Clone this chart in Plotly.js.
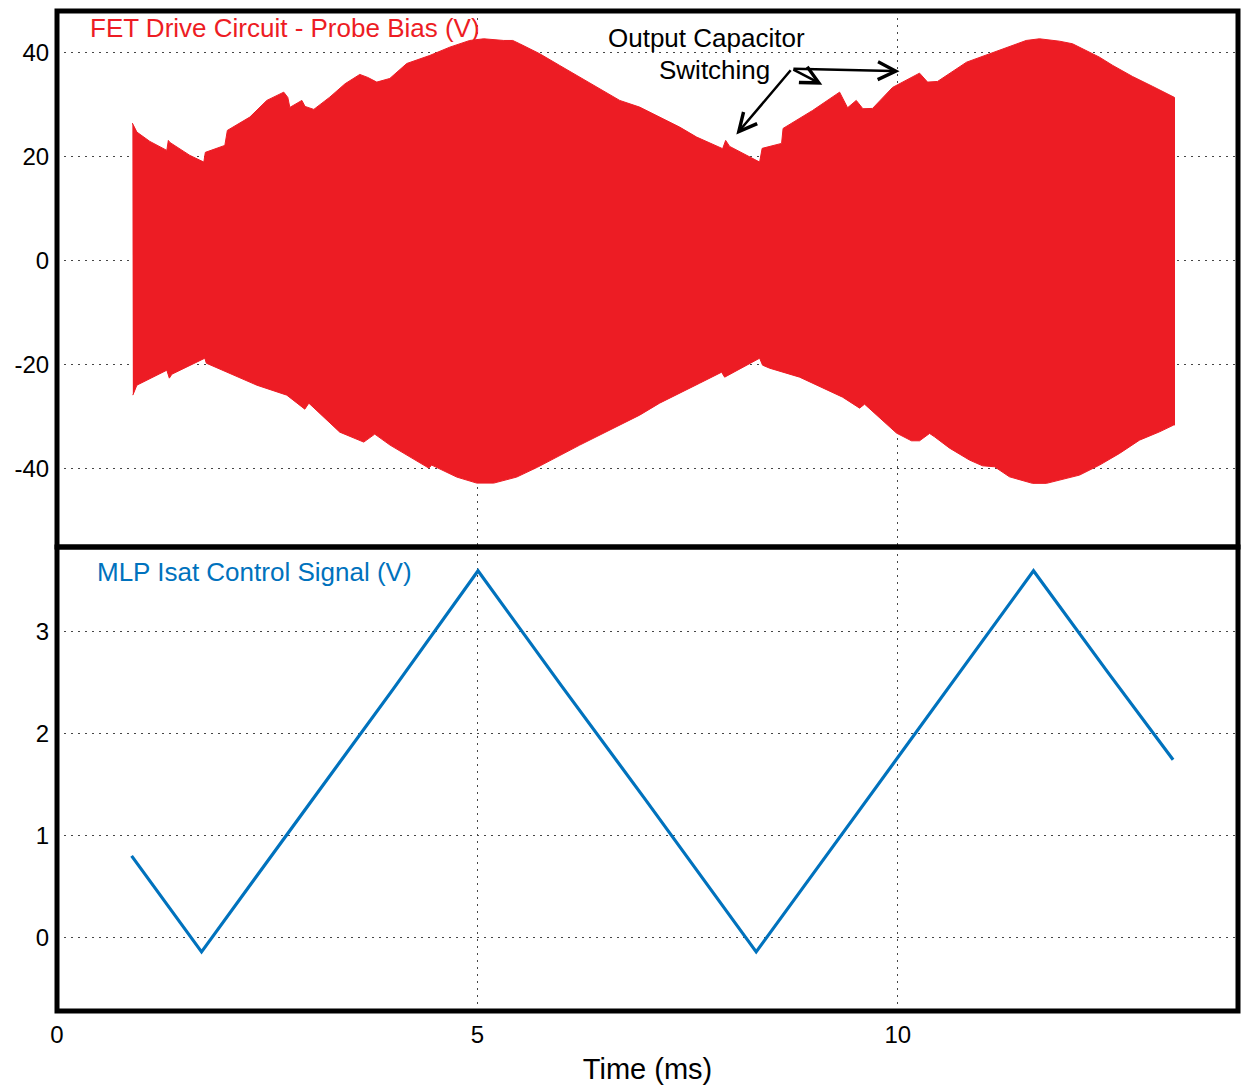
<!DOCTYPE html>
<html>
<head>
<meta charset="utf-8">
<script src="https://cdn.plot.ly/plotly-3.0.1.min.js"></script>
<style>html,body{margin:0;padding:0;background:#fff;}#chart{width:1241px;height:1085px;}</style>
</head>
<body>
<div id="chart"></div>
<script>
// ---- Data ----
// Probe bias envelope: upper edge (time in ms, volts)
const timeUpper = [0.896,0.950,1.104,1.306,1.324,1.342,1.580,1.746,1.764,1.996,2.026,2.293,2.495,2.697,2.745,2.769,2.912,2.950,3.054,3.244,3.426,3.601,3.696,3.803,3.958,4.160,4.433,4.671,4.909,5.075,5.313,5.420,5.503,5.621,5.741,5.978,6.216,6.454,6.692,6.929,7.167,7.405,7.607,7.916,7.952,7.999,8.356,8.386,8.617,8.635,8.986,9.283,9.307,9.402,9.505,9.584,9.699,9.937,10.258,10.353,10.472,10.817,11.209,11.447,11.526,11.684,11.922,12.077,12.240,12.398,12.556,12.790,13.031,13.266,13.290];
const biasUpper = [26.46,24.73,22.94,21.21,23.13,22.75,20.25,18.96,20.83,22.17,25.06,27.62,30.83,32.42,31.40,29.48,30.83,29.67,29.10,31.46,34.04,35.83,35.25,34.35,35.06,37.94,39.48,41.08,42.37,42.69,42.37,42.37,41.73,40.77,39.81,37.56,35.31,33.08,30.83,29.54,27.62,25.69,23.77,21.54,23.13,21.98,18.96,21.60,22.56,25.44,28.90,32.12,32.42,29.42,30.83,29.23,29.29,33.33,36.08,34.35,34.48,38.19,40.44,41.85,42.37,42.69,42.23,41.73,40.44,39.15,37.56,35.44,33.52,31.46,31.40];
// Probe bias envelope: lower edge
const timeLower = [0.902,0.950,1.306,1.336,1.366,1.758,1.776,2.055,2.376,2.733,2.947,2.995,3.363,3.648,3.779,3.961,4.160,4.421,4.457,4.754,4.992,5.194,5.467,5.717,6.216,6.454,6.692,6.929,7.167,7.405,7.643,7.904,7.940,8.356,8.391,8.475,8.832,9.343,9.545,9.604,9.984,10.162,10.258,10.377,10.436,10.615,10.852,11.007,11.150,11.327,11.601,11.767,11.922,12.160,12.398,12.636,12.874,13.112,13.278,13.290];
const biasLower = [-25.90,-23.98,-21.10,-22.63,-21.87,-18.79,-19.75,-21.67,-23.98,-25.90,-28.60,-27.44,-33.02,-34.94,-33.40,-35.52,-37.44,-39.94,-39.37,-41.67,-42.83,-42.83,-41.67,-39.75,-35.52,-33.60,-31.67,-29.75,-27.44,-25.58,-23.60,-21.48,-22.44,-18.79,-20.13,-20.71,-22.44,-26.29,-28.40,-27.63,-33.21,-34.69,-34.69,-33.27,-33.92,-36.10,-38.40,-39.50,-39.69,-41.62,-42.88,-42.88,-42.25,-41.29,-39.37,-37.12,-34.56,-32.96,-31.67,-31.67];
// MLP Isat control signal (time in ms, volts)
const timeCtrl = [0.887,1.300,1.719,3.000,4.000,5.007,6.000,7.000,8.315,9.500,10.500,11.613,12.500,13.273];
const ctrlV    = [0.80,0.33,-0.143,1.31,2.44,3.60,2.47,1.35,-0.143,1.20,2.33,3.60,2.60,1.744];
// Tick labels
const xTickVals = [0,5,10];
const xTickText = ['0','5','10'];
const yTopVals = [-40,-20,0,20,40];
const yTopText = ['-40','-20','0','20','40'];
const yBotVals = [0,1,2,3];
const yBotText = ['0','1','2','3'];

// ---- Styling ----
const RED = 'rgb(237,28,36)';
const BLUE = 'rgb(0,114,189)';
const FONT = 'Liberation Sans, Arial, Helvetica, sans-serif';
const GRID = 'rgb(70,70,70)';
const DASH = '2px,5px';

const redPoly = {
  x: timeUpper.concat(timeLower.slice().reverse()),
  y: biasUpper.concat(biasLower.slice().reverse()),
  xaxis: 'x', yaxis: 'y',
  type: 'scatter', mode: 'lines', fill: 'toself',
  fillcolor: RED, line: {color: RED, width: 1},
  hoverinfo: 'skip', showlegend: false
};
const blueLine = {
  x: timeCtrl, y: ctrlV,
  xaxis: 'x', yaxis: 'y2',
  type: 'scatter', mode: 'lines',
  line: {color: BLUE, width: 3.2},
  hoverinfo: 'skip', showlegend: false
};

const split = 0.464;
const frameLine = {color: 'black', width: 5};

const layout = {
  width: 1241, height: 1085,
  margin: {l: 57, r: 2.5, t: 10.5, b: 73.5, pad: 0},
  paper_bgcolor: 'white', plot_bgcolor: 'white',
  font: {family: FONT, color: 'black', size: 24},
  showlegend: false,
  xaxis: {
    domain: [0, 1], range: [0, 14.045], anchor: 'y2',
    tickmode: 'array', tickvals: xTickVals, ticktext: xTickText,
    ticks: 'outside', ticklen: 2, tickcolor: 'rgba(0,0,0,0)',
    tickfont: {family: FONT, size: 24, color: 'black'},
    showgrid: true, gridcolor: GRID, griddash: DASH, gridwidth: 1,
    zeroline: false, showline: false,
    title: {text: 'Time (ms)', font: {family: FONT, size: 29, color: 'black'}, standoff: 12}
  },
  yaxis: {
    domain: [split, 1], range: [-55.13, 48.04],
    tickmode: 'array', tickvals: yTopVals, ticktext: yTopText,
    ticks: 'outside', ticklen: 2, tickcolor: 'rgba(0,0,0,0)',
    tickfont: {family: FONT, size: 24, color: 'black'},
    showgrid: true, gridcolor: GRID, griddash: DASH, gridwidth: 1,
    zeroline: false, showline: false
  },
  yaxis2: {
    domain: [0, split], range: [-0.724, 3.834], anchor: 'x',
    tickmode: 'array', tickvals: yBotVals, ticktext: yBotText,
    ticks: 'outside', ticklen: 2, tickcolor: 'rgba(0,0,0,0)',
    tickfont: {family: FONT, size: 24, color: 'black'},
    showgrid: true, gridcolor: GRID, griddash: DASH, gridwidth: 1,
    zeroline: false, showline: false
  },
  shapes: [
    {type: 'rect', xref: 'paper', yref: 'paper', x0: 0, x1: 1, y0: split, y1: 1, line: frameLine, layer: 'above'},
    {type: 'rect', xref: 'paper', yref: 'paper', x0: 0, x1: 1, y0: 0, y1: split, line: frameLine, layer: 'above'}
  ],
  annotations: [
    {text: 'FET Drive Circuit - Probe Bias (V)', xref: 'paper', yref: 'paper', x: 0.0265, y: 0.983,
     xanchor: 'left', yanchor: 'middle', showarrow: false, font: {family: FONT, size: 26, color: RED}},
    {text: 'MLP Isat Control Signal (V)', xref: 'paper', yref: 'paper', x: 0.0325, y: 0.4386,
     xanchor: 'left', yanchor: 'middle', showarrow: false, font: {family: FONT, size: 26, color: BLUE}},
    {text: 'Output Capacitor', xref: 'paper', yref: 'paper', x: 0.5501, y: 0.9727,
     xanchor: 'center', yanchor: 'middle', showarrow: false, font: {family: FONT, size: 26, color: 'black'}},
    {text: 'Switching', xref: 'paper', yref: 'paper', x: 0.5569, y: 0.9411,
     xanchor: 'center', yanchor: 'middle', showarrow: false, font: {family: FONT, size: 26, color: 'black'}},
    {text: '', x: 8.079, y: 24.29, xref: 'x', yref: 'y', ax: 8.740, ay: 36.92, axref: 'x', ayref: 'y',
     showarrow: true, arrowhead: 5, arrowsize: 1.4, arrowwidth: 2.5, arrowcolor: 'black', standoff: 0},
    {text: '', x: 9.101, y: 33.85, xref: 'x', yref: 'y', ax: 8.740, ay: 36.92, axref: 'x', ayref: 'y',
     showarrow: true, arrowhead: 5, arrowsize: 1.4, arrowwidth: 2.5, arrowcolor: 'black', standoff: 0},
    {text: '', x: 10.020, y: 36.46, xref: 'x', yref: 'y', ax: 8.740, ay: 36.92, axref: 'x', ayref: 'y',
     showarrow: true, arrowhead: 5, arrowsize: 1.4, arrowwidth: 2.5, arrowcolor: 'black', standoff: 0}
  ]
};

Plotly.newPlot('chart', [redPoly, blueLine], layout, {displayModeBar: false, staticPlot: true});
</script>
</body>
</html>
